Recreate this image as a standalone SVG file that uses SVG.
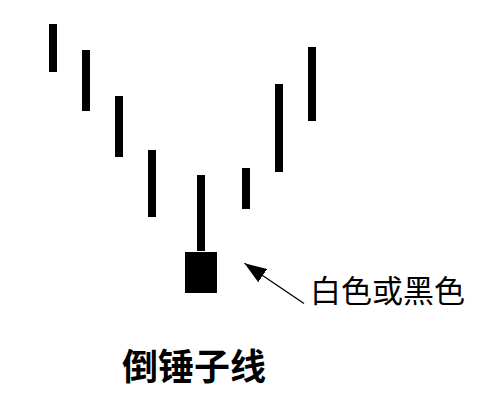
<svg xmlns="http://www.w3.org/2000/svg" width="496" height="415" viewBox="0 0 496 415">
<style>
.bar{fill:#000}
.lbl{font-family:"Noto Sans CJK SC","Noto Sans CJK JP",sans-serif;fill:#000}
</style>
<defs>
<marker id="ah" markerWidth="24" markerHeight="16" refX="22" refY="8" orient="auto" markerUnits="userSpaceOnUse">
<path d="M0,0 L22,8 L0,16 Z" fill="#000"/>
</marker>
</defs>
<rect width="496" height="415" fill="#fff"/>
<g id="candle1"><rect class="bar" x="49" y="24" width="8" height="48"/></g>
<g id="candle2"><rect class="bar" x="82" y="50" width="8" height="61"/></g>
<g id="candle3"><rect class="bar" x="115" y="96" width="8" height="61"/></g>
<g id="candle4"><rect class="bar" x="148" y="150" width="8" height="67"/></g>
<g id="hammer"><rect class="bar" x="197" y="175" width="8" height="76"/><rect class="bar" x="185" y="252" width="32" height="41"/></g>
<g id="candle6"><rect class="bar" x="242" y="168" width="8" height="41"/></g>
<g id="candle7"><rect class="bar" x="275" y="84" width="8" height="88"/></g>
<g id="candle8"><rect class="bar" x="308" y="47" width="8" height="74"/></g>
<g id="connectors"><line x1="304" y1="303.5" x2="244.5" y2="263.3" stroke="#000" stroke-width="1.3" marker-end="url(#ah)"/></g>
<g id="label-color"><text class="lbl" x="310" y="302" font-size="31">白色或黑色</text></g>
<g id="title"><text class="lbl" x="122" y="380" font-size="36" font-weight="bold">倒锤子线</text></g>
</svg>
